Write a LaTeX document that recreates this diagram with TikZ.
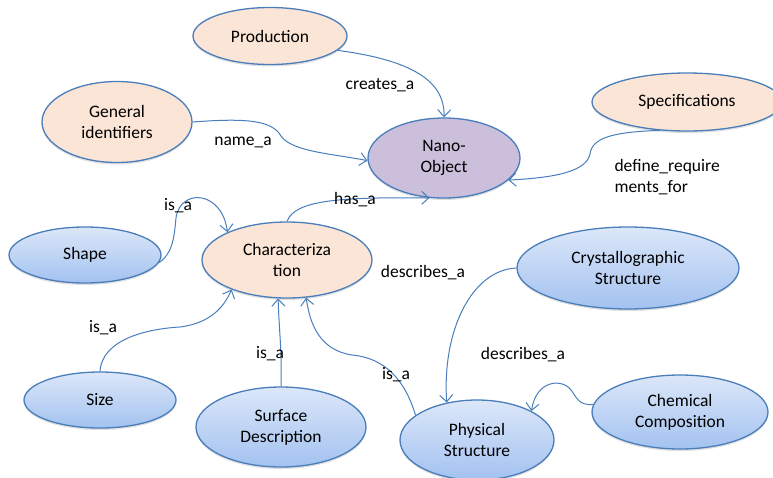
\documentclass[tikz,border=0pt]{standalone}
\usepackage{fontspec}
\setmainfont{Carlito}
\usepackage{tikz}
\usetikzlibrary{shapes.geometric, arrows.meta, shadows}

\definecolor{edgeblue}{HTML}{4A7EBB}
\definecolor{peach}{HTML}{FBE5D6}
\definecolor{lilac}{HTML}{CBBFDB}
\definecolor{skytop}{HTML}{DCE7F9}
\definecolor{skybot}{HTML}{A3C2F0}

\tikzset{
	concept/.style={draw=edgeblue, line width=1.3pt, ellipse, align=center,
		font=\fontsize{17.5}{21}\selectfont, inner sep=0pt,
		drop shadow={shadow xshift=0pt, shadow yshift=-2pt, opacity=.25}},
	orangenode/.style={concept, fill=peach},
	purplenode/.style={concept, fill=lilac},
	bluenode/.style={concept, top color=skytop, bottom color=skybot},
	rel/.style={draw=edgeblue, line width=1pt, ->, >={Straight Barb[length=7pt, width=13pt]}},
	lbl/.style={font=\fontsize{17.5}{21}\selectfont, align=left}
}

\begin{document}
\begin{tikzpicture}[x=1pt, y=-1pt]
			
			\useasboundingbox (0,0) rectangle (773,477);
			
			% concepts
			\node[orangenode, minimum width=154, minimum height=57] (prod) at (270,36) {Production};
			\node[orangenode, minimum width=150, minimum height=81] (gi) at (117,122) {General\\identifiers};
			\node[purplenode, minimum width=152, minimum height=80] (nano) at (444,158) {Nano-\\Object};
			\node[orangenode, minimum width=190, minimum height=58] (specs) at (687,102) {Specifications};
			\node[bluenode, minimum width=152, minimum height=56] (shape) at (85,255) {Shape};
			\node[orangenode, minimum width=170, minimum height=76] (char) at (287,260) {Characteriza\\tion};
			\node[bluenode, minimum width=152, minimum height=56] (size) at (100,400) {Size};
			\node[bluenode, minimum width=170, minimum height=80] (surf) at (281,427) {Surface\\Description};
			\node[bluenode, minimum width=154, minimum height=80] (phys) at (477,440) {Physical\\Structure};
			\node[bluenode, minimum width=222, minimum height=82] (cryst) at (628,268) {Crystallographic\\Structure};
			\node[bluenode, minimum width=176, minimum height=74] (chem) at (680,412) {Chemical\\Composition};
			
			% relations
			\draw[rel] (prod.-12) .. controls (410,60) and (445,80) .. (nano.north);
			\draw[rel] (gi.east) .. controls (245,118) and (272,120) .. (281,136)
				.. controls (292,152) and (335,154) .. (nano.182);
			\draw[rel] (specs.226) .. controls (612,132) and (592,138) .. (590,154)
				.. controls (586,174) and (545,178) .. (nano.-19);
			\draw[rel] (shape.-6) .. controls (172,254) and (174,240) .. (176,218)
				.. controls (180,188) and (222,190) .. (char.155);
			\draw[rel] (char.north) .. controls (295,200) and (340,197) .. (nano.-110);
			\draw[rel] (size.north) .. controls (102,340) and (145,329) .. (180,327)
				.. controls (212,323) and (225,305) .. (char.208);
			\draw[rel] (surf.north) .. controls (282,350) and (279,330) .. (char.-103);
			\draw[rel] (phys.158) .. controls (405,380) and (385,358) .. (352,355)
				.. controls (320,350) and (310,325) .. (char.-63);
			\draw[rel] (cryst.west) .. controls (472,270) and (442,330) .. (phys.129);
			\draw[rel] (chem.175) .. controls (578,406) and (576,396) .. (571,390)
				.. controls (562,378) and (536,380) .. (phys.28);
			
			% relation names
			\node[lbl] (lcreates) at (380,85) {creates\_a};
			\node[lbl] (lname) at (243,142) {name\_a};
			\node[lbl, anchor=west] (ldefine) at (611,177) {define\_require\\ments\_for};
			\node[lbl] (lshape) at (178,206) {is\_a};
			\node[lbl] (lhas) at (355,200) {has\_a};
			\node[lbl] (ldescr) at (423,273) {describes\_a};
			\node[lbl] (ldescrb) at (523,355) {describes\_a};
			\node[lbl] (lsize) at (103,328) {is\_a};
			\node[lbl] (lsurf) at (270,354) {is\_a};
			\node[lbl] (lphys) at (396,375) {is\_a};
			
\end{tikzpicture}
\end{document}
